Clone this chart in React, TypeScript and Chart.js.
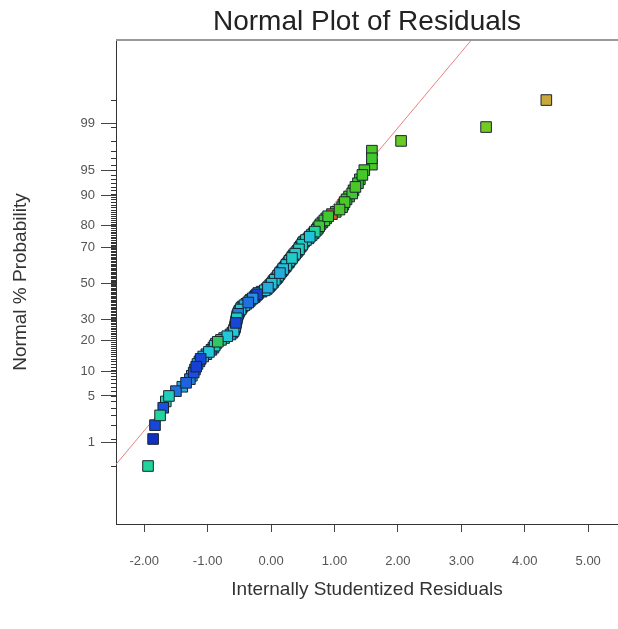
import React, { useEffect, useRef } from "react";
import { Chart, registerables } from "chart.js";
Chart.register(...registerables);

// Internally studentized residuals, sorted ascending (rank i -> normal % probability (i-0.5)/n)
const residuals = [
  -1.94, -1.86, -1.83, -1.75, -1.70, -1.66, -1.61, -1.50, -1.40, -1.34,
  -1.28, -1.25, -1.22, -1.20, -1.18, -1.16, -1.13, -1.11, -1.07, -1.02,
  -0.98, -0.94, -0.91, -0.89, -0.87, -0.84, -0.79, -0.74, -0.69, -0.64,
  -0.61, -0.59, -0.58, -0.57, -0.565, -0.56, -0.555, -0.55, -0.545, -0.54,
  -0.535, -0.53, -0.52, -0.51, -0.50, -0.48, -0.47, -0.45, -0.42, -0.39,
  -0.36, -0.34, -0.32, -0.29, -0.26, -0.24, -0.22, -0.20, -0.15, -0.10,
  -0.07, -0.05, -0.03, -0.01, 0.01, 0.03, 0.04, 0.06, 0.08, 0.10,
  0.11, 0.13, 0.14, 0.16, 0.18, 0.19, 0.21, 0.23, 0.24, 0.26,
  0.28, 0.29, 0.31, 0.33, 0.34, 0.36, 0.38, 0.40, 0.42, 0.44,
  0.45, 0.47, 0.49, 0.50, 0.52, 0.55, 0.59, 0.61, 0.64, 0.67,
  0.69, 0.72, 0.74, 0.76, 0.78, 0.81, 0.84, 0.87, 0.90, 0.96,
  1.02, 1.08, 1.12, 1.14, 1.16, 1.19, 1.23, 1.28, 1.30, 1.33,
  1.37, 1.40, 1.44, 1.47, 1.59, 1.59, 1.59, 2.05, 3.39, 4.34,
];

// Colour-coding value of each run (0 = low/blue ... 1 = high/red), same order as residuals
const colorValues = [
  0.45, 0.05, 0.12, 0.45, 0.15, 0.42, 0.40, 0.20, 0.30, 0.18,
  0.22, 0.35, 0.15, 0.28, 0.10, 0.32, 0.20, 0.12, 0.30, 0.25,
  0.35, 0.15, 0.30, 0.40, 0.35, 0.55, 0.50, 0.45, 0.35, 0.25,
  0.15, 0.35, 0.28, 0.20, 0.38, 0.30, 0.12, 0.35, 0.25, 0.40,
  0.30, 0.35, 0.22, 0.38, 0.30, 0.35, 0.25, 0.38, 0.30, 0.35,
  0.20, 0.38, 0.32, 0.25, 0.12, 0.55, 0.10, 0.30, 0.20, 0.35,
  0.38, 0.30, 0.36, 0.40, 0.34, 0.30, 0.38, 0.36, 0.32, 0.40,
  0.35, 0.38, 0.30, 0.42, 0.36, 0.34, 0.40, 0.38, 0.35, 0.42,
  0.36, 0.33, 0.40, 0.38, 0.34, 0.42, 0.36, 0.38, 0.44, 0.40,
  0.36, 0.42, 0.38, 0.40, 0.35, 0.40, 0.38, 0.34, 0.42, 0.40,
  0.45, 0.55, 0.60, 0.62, 0.64, 0.60, 0.62, 0.65, 0.63, 0.95,
  0.62, 0.66, 0.64, 0.60, 0.66, 0.62, 0.65, 0.63, 0.60, 0.66,
  0.64, 0.62, 0.65, 0.66, 0.66, 0.64, 0.66, 0.70, 0.72, 0.86,
];

const probTickLabels = [1, 5, 10, 20, 30, 50, 70, 80, 90, 95, 99];
const xTickValues = [-2, -1, 0, 1, 2, 3, 4, 5];
const fitIntercept = 0.056;
const fitSlope = 1.103;
const fitLineX = [-2.6, 3.4];

const TITLE = "Normal Plot of Residuals";
const X_TITLE = "Internally Studentized Residuals";
const Y_TITLE = "Normal % Probability";

function invNorm(p: number): number {
  const a = [-3.969683028665376e1, 2.209460984245205e2, -2.759285104469687e2, 1.38357751867269e2, -3.066479806614716e1, 2.506628277459239];
  const b = [-5.447609879822406e1, 1.615858368580409e2, -1.556989798598866e2, 6.680131188771972e1, -1.328068155288572e1];
  const c = [-7.784894002430293e-3, -3.223964580411365e-1, -2.400758277161838, -2.549671010114899, 4.374664141464968, 2.938163982698783];
  const d = [7.784695709041462e-3, 3.224671290700398e-1, 2.445134137142996, 3.754408661907416];
  const pl = 0.02425;
  const ph = 1 - pl;
  let q: number, r: number;
  if (p < pl) {
    q = Math.sqrt(-2 * Math.log(p));
    return (((((c[0] * q + c[1]) * q + c[2]) * q + c[3]) * q + c[4]) * q + c[5]) / ((((d[0] * q + d[1]) * q + d[2]) * q + d[3]) * q + 1);
  }
  if (p <= ph) {
    q = p - 0.5;
    r = q * q;
    return ((((((a[0] * r + a[1]) * r + a[2]) * r + a[3]) * r + a[4]) * r + a[5]) * q) / (((((b[0] * r + b[1]) * r + b[2]) * r + b[3]) * r + b[4]) * r + 1);
  }
  q = Math.sqrt(-2 * Math.log(1 - p));
  return -(((((c[0] * q + c[1]) * q + c[2]) * q + c[3]) * q + c[4]) * q + c[5]) / ((((d[0] * q + d[1]) * q + d[2]) * q + d[3]) * q + 1);
}

const colorStops: [number, [number, number, number]][] = [
  [0.0, [10, 34, 184]],
  [0.15, [26, 79, 224]],
  [0.25, [37, 144, 224]],
  [0.35, [32, 200, 216]],
  [0.45, [32, 212, 154]],
  [0.55, [48, 200, 96]],
  [0.65, [68, 200, 40]],
  [0.75, [140, 204, 32]],
  [0.86, [200, 168, 56]],
  [1.0, [224, 48, 32]],
];

function colorFor(v: number): string {
  for (let i = 1; i < colorStops.length; i++) {
    const [v1, c1] = colorStops[i];
    const [v0, c0] = colorStops[i - 1];
    if (v <= v1) {
      const t = (v - v0) / (v1 - v0);
      const c = c0.map((x, k) => Math.round(x + (c1[k] - x) * t));
      return `rgb(${c[0]},${c[1]},${c[2]})`;
    }
  }
  return "rgb(224,48,32)";
}

export default function App() {
  const ref = useRef<HTMLCanvasElement>(null);
  useEffect(() => {
    document.body.style.margin = "0";
    const canvas = ref.current;
    if (!canvas) return;
    const n = residuals.length;
    const sortedPts = residuals.map((r, i) => ({ x: r, y: invNorm((i + 0.5) / n), c: colorFor(colorValues[i]) }));
    // draw in a scrambled (run-like) order so overlapping squares stay distinguishable
    const drawOrder = sortedPts.map((_, i) => (i * 47) % n);
    const points = drawOrder.map((k) => sortedPts[k]);
    const linePts = fitLineX.map((x) => ({ x, y: fitIntercept + fitSlope * x }));
    const family = "'Liberation Sans', Arial, sans-serif";

    const frame = {
      id: "frame",
      afterDatasetsDraw(chart: any) {
        const { ctx, chartArea, scales } = chart;
        ctx.save();
        ctx.strokeStyle = "#9a9a9a";
        ctx.lineWidth = 2;
        ctx.beginPath();
        ctx.moveTo(chartArea.left, chartArea.top);
        ctx.lineTo(chartArea.right, chartArea.top);
        ctx.stroke();
        ctx.strokeStyle = "#333";
        ctx.lineWidth = 1;
        ctx.beginPath();
        sortedPts.forEach((p) => {
          const y = Math.round(scales.y.getPixelForValue(p.y)) + 0.5;
          ctx.moveTo(chartArea.left - 5, y);
          ctx.lineTo(chartArea.left, y);
        });
        ctx.stroke();
        ctx.restore();
      },
      afterDraw(chart: any) {
        const { ctx, chartArea } = chart;
        ctx.save();
        ctx.fillStyle = "#222";
        ctx.font = `28px ${family}`;
        ctx.textAlign = "center";
        ctx.textBaseline = "middle";
        ctx.fillText(TITLE, (chartArea.left + chartArea.right) / 2, 22);
        ctx.restore();
      },
    };

    const chart = new Chart(canvas, {
      type: "scatter",
      data: {
        datasets: [
          {
            type: "scatter",
            data: points,
            pointStyle: "rect",
            pointRadius: 7.5,
            borderWidth: 1,
            borderColor: "#1a2430",
            backgroundColor: points.map((p) => p.c),
            order: 0,
          } as any,
          {
            type: "line",
            data: linePts,
            borderColor: "#e88080",
            borderWidth: 1,
            pointRadius: 0,
            fill: false,
            order: 1,
          } as any,
        ],
      },
      options: {
        animation: false,
        responsive: false,
        layout: { autoPadding: false, padding: { top: 40, left: 0, right: 0, bottom: 0 } },
        plugins: {
          legend: { display: false },
          tooltip: { enabled: false },
          title: { display: false },
        },
        scales: {
          x: {
            type: "linear",
            min: -2.445,
            max: 5.47,
            afterBuildTicks: (s: any) => {
              s.ticks = xTickValues.map((v) => ({ value: v }));
            },
            afterFit: (s: any) => {
              s.height = 105;
              s.paddingLeft = 0;
              s.paddingRight = 0;
            },
            ticks: {
              autoSkip: false,
              maxRotation: 0,
              padding: 22,
              color: "#555",
              font: { family, size: 13 },
              callback: (v: any) => Number(v).toFixed(2),
            },
            grid: { drawOnChartArea: false, tickLength: 8, tickColor: "#444" },
            border: { display: true, color: "#333", width: 1 },
            title: {
              display: true,
              text: X_TITLE,
              color: "#333",
              font: { family, size: 19 },
              padding: { top: 0, bottom: 28 },
            },
          },
          y: {
            type: "linear",
            min: -3.51,
            max: 3.54,
            afterBuildTicks: (s: any) => {
              s.ticks = probTickLabels.map((p) => ({ value: invNorm(p / 100) }));
            },
            afterFit: (s: any) => {
              s.width = 116;
              s.paddingTop = 0;
              s.paddingBottom = 0;
            },
            ticks: {
              autoSkip: false,
              padding: 6,
              color: "#555",
              font: { family, size: 13 },
              callback: (_v: any, i: number) => String(probTickLabels[i]),
            },
            grid: { drawOnChartArea: false, tickLength: 15, tickColor: "#444" },
            border: { display: true, color: "#333", width: 1 },
            title: {
              display: true,
              text: Y_TITLE,
              color: "#333",
              font: { family, size: 19 },
              padding: { top: 9, bottom: 0 },
            },
          },
        },
      },
      plugins: [frame],
    });
    return () => chart.destroy();
  }, []);
  return (
    <div style={{ width: 618, height: 629 }}>
      <canvas ref={ref} width={618} height={629} style={{ display: "block" }} />
    </div>
  );
}
